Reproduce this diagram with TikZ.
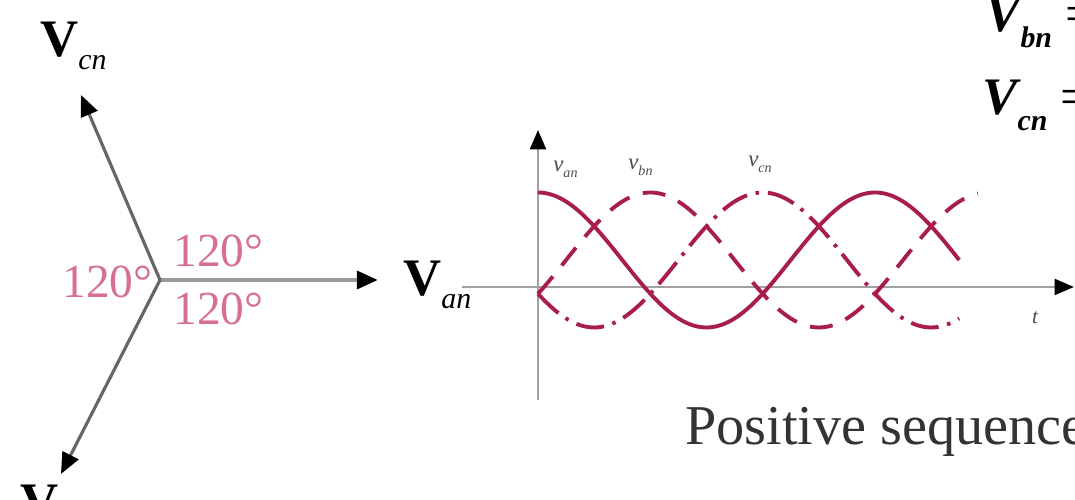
\documentclass[tikz,border=0pt]{standalone}
\usepackage{fontspec}
\setmainfont{Liberation Serif}
\usetikzlibrary{arrows.meta}
\usetikzlibrary{positioning}

\definecolor{wavered}{RGB}{168,30,72}
\definecolor{anglepink}{RGB}{214,110,150}
\definecolor{axisgray}{RGB}{160,160,160}

\newcommand{\phlbl}[1]{{\fontsize{30}{30}\selectfont\bfseries V}\raisebox{-7pt}{\fontsize{17}{17}\selectfont\itshape #1}}
\newcommand{\eqlbl}[1]{{\fontsize{30}{30}\selectfont\bfseries\itshape V}\raisebox{-9pt}{\fontsize{17}{17}\selectfont\bfseries\itshape #1}{\fontsize{30}{30}\selectfont\ =}}
\newcommand{\wvlbl}[1]{{\fontsize{13}{13}\selectfont\itshape v}\raisebox{-3pt}{\fontsize{8}{8}\selectfont\itshape #1}}

\tikzset{
  phasor/.style={line width=1.8pt, draw=black!60, -{Triangle[length=12pt,width=10pt,color=black]}},
  refphasor/.style={line width=2.6pt, draw=black!40, -{Triangle[length=12pt,width=10pt,color=black]}},
  axisline/.style={line width=1.5pt, draw=axisgray, -{Triangle[length=11pt,width=9pt,color=black]}},
  wave/.style={line width=2.2pt, draw=wavered},
  anglelbl/.style={text=anglepink, font=\fontsize{27}{27}\selectfont, inner sep=0pt},
  sublbl/.style={text=black!70, inner sep=0pt}
}

\begin{document}
\begin{tikzpicture}
      \useasboundingbox (0,0) rectangle (21.5,10);
      \clip (0,0) rectangle (21.5,10);

      % Phasor diagram
      \coordinate (o) at (3.2,4.4);
      \coordinate (va) at (7.56,4.4);
      \coordinate (vc) at (1.62,8.1);
      \coordinate (vb) at (1.22,0.52);
      \draw[refphasor] (o) -- (va);
      \draw[phasor] (o) -- (vc);
      \draw[phasor] (o) -- (vb);

      \node[anchor=base west, inner sep=0pt] (lblvc) at (0.8,8.86) {\phlbl{cn}};
      \node[anchor=base west, inner sep=0pt] (lblva) at (8.06,4.08) {\phlbl{an}};
      \node[anchor=base west, inner sep=0pt] (lblvb) at (0.4,-0.4) {\phlbl{bn}};

      % Angles between phasors
      \node[anglelbl, anchor=base east] (angleft) at (3.06,4.04) {120°};
      \node[anglelbl, anchor=base west] (angup) at (3.46,4.66) {120°};
      \node[anglelbl, anchor=base west] (angdown) at (3.46,3.5) {120°};

      % Time axes
      \coordinate (tstart) at (9.24,4.26);
      \coordinate (tend) at (21.48,4.26);
      \coordinate (ybottom) at (10.76,2.0);
      \coordinate (ytop) at (10.76,7.4);
      \draw[axisline] (tstart) -- (tend);
      \draw[axisline] (ybottom) -- (ytop);
      \node[sublbl, font=\fontsize{12}{12}\selectfont\itshape] (tlbl) at (20.7,3.64) {t};

      % Three phase voltages
      \draw[wave] plot[domain=0:450, samples=120] ({10.76+6.74*\x/360}, {4.8+1.35*cos(\x)});
      \draw[wave, dash pattern=on 13pt off 8pt] plot[domain=0:470, samples=120] ({10.76+6.74*\x/360}, {4.8+1.35*cos(\x-120)});
      \draw[wave, dash pattern=on 16pt off 5pt on 2pt off 5pt] plot[domain=0:450, samples=120] ({10.76+6.74*\x/360}, {4.8+1.35*cos(\x-240)});

      \node[sublbl, anchor=base west] (lblan) at (11.06,6.56) {\wvlbl{an}};
      \node[sublbl, anchor=base west] (lblbn) at (12.56,6.6) {\wvlbl{bn}};
      \node[sublbl, anchor=base west] (lblcn) at (14.96,6.66) {\wvlbl{cn}};

      % Caption and equations
      \node[anchor=base west, inner sep=0pt, text=black!80, font=\fontsize{32}{32}\selectfont] (caption) at (13.7,1.1) {Positive sequence};
      \node[anchor=base west, inner sep=0pt] (eqbn) at (19.7,9.36) {\eqlbl{bn}};
      \node[anchor=base west, inner sep=0pt] (eqcn) at (19.64,7.7) {\eqlbl{cn}};
    \end{tikzpicture}
\end{document}
